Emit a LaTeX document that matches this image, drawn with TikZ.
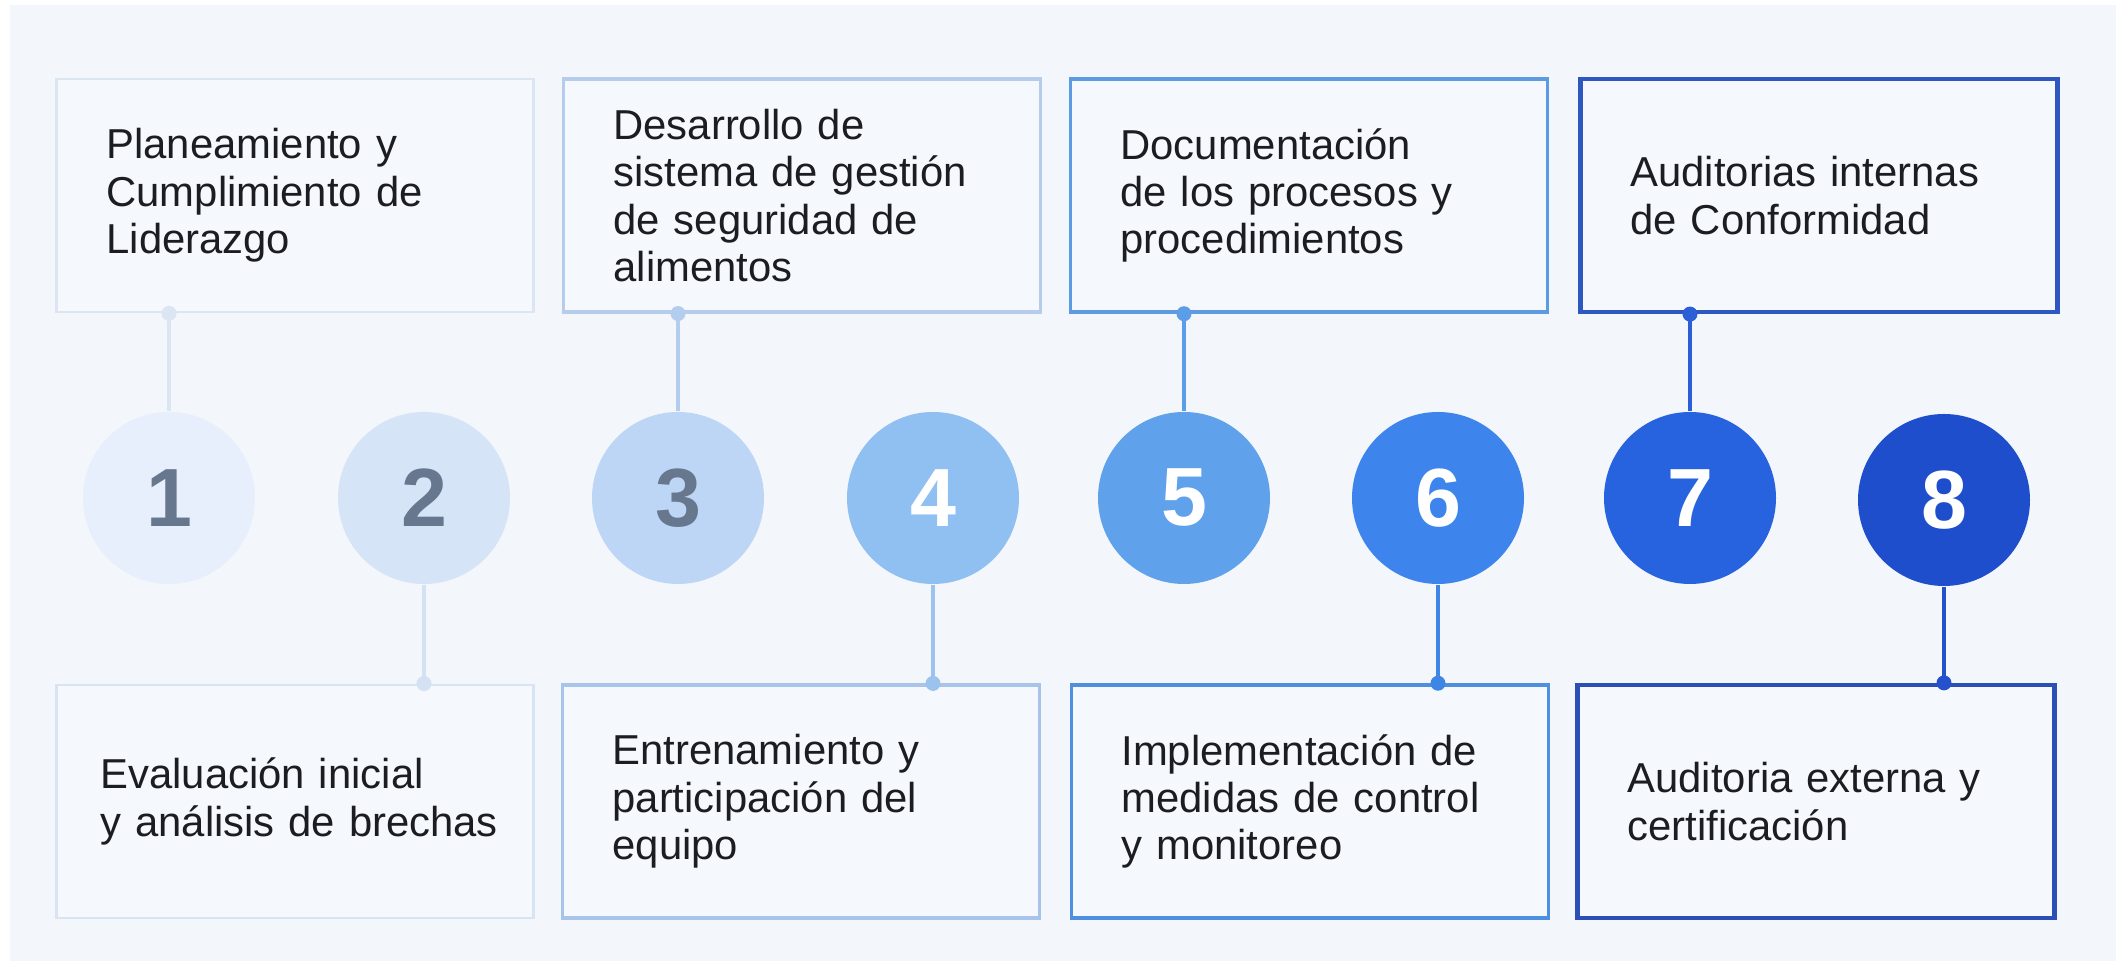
\documentclass[tikz,border=0pt]{standalone}
\usepackage{fontspec}
\setmainfont{Liberation Sans}
\usetikzlibrary{positioning}
\definecolor{bgcol}{HTML}{F3F6FA}
\definecolor{boxfill}{HTML}{F5F8FC}
\definecolor{txtcol}{HTML}{1B1D22}
\definecolor{numgray}{HTML}{66778E}
\definecolor{c1}{HTML}{E6EFFB}
\definecolor{c2}{HTML}{D5E4F7}
\definecolor{c3}{HTML}{BED6F5}
\definecolor{c4}{HTML}{90BFF2}
\definecolor{c5}{HTML}{60A1EC}
\definecolor{c6}{HTML}{3D84EC}
\definecolor{c7}{HTML}{2763DF}
\definecolor{c8}{HTML}{1E4ECC}
\definecolor{l1}{HTML}{DCE6F3}
\definecolor{l2}{HTML}{D4E1F3}
\definecolor{l3}{HTML}{B3CDEE}
\definecolor{l4}{HTML}{9CC2EE}
\definecolor{l5}{HTML}{5C9DE8}
\definecolor{l6}{HTML}{3E85E6}
\definecolor{l7}{HTML}{2A5FD8}
\definecolor{l8}{HTML}{2552CC}
\definecolor{b1}{HTML}{DCE6F3}
\definecolor{b2}{HTML}{D9E4F3}
\definecolor{b3}{HTML}{B5CCEA}
\definecolor{b4}{HTML}{A8C4EA}
\definecolor{b5}{HTML}{5C9BE0}
\definecolor{b6}{HTML}{4F8FE0}
\definecolor{b7}{HTML}{2E57C0}
\definecolor{b8}{HTML}{2C4FB6}
\begin{document}
\begin{tikzpicture}[x=0.1mm,y=0.1mm,
        box/.style={draw, fill=boxfill, line width=1pt, minimum width=4.77cm, minimum height=2.33cm,
            text width=3.77cm, inner xsep=0.5cm, inner ysep=0pt, align=left, text=txtcol,
            font=\fontsize{11.9}{13.5}\selectfont},
        num/.style={circle, minimum size=1.72cm, inner sep=0pt, font=\fontsize{23.5}{23.5}\selectfont\bfseries},
        dot/.style={circle, inner sep=0pt, minimum size=0.15cm},
        link/.style={line width=1.1pt}]
                    \fill[white] (0,0) rectangle (2116,961);
                    \fill[bgcol] (10,0) rectangle (2116,956);
                    \useasboundingbox (0,0) rectangle (2116,961);

                    \node[num, fill=c1, text=numgray] (s1 node) at (169,463) {1};
                    \node[num, fill=c2, text=numgray] (s2 node) at (424,463) {2};
                    \node[num, fill=c3, text=numgray] (s3 node) at (678,463) {3};
                    \node[num, fill=c4, text=white] (s4 node) at (933,463) {4};
                    \node[num, fill=c5, text=white] (s5 node) at (1184,463) {5};
                    \node[num, fill=c6, text=white] (s6 node) at (1438,463) {6};
                    \node[num, fill=c7, text=white] (s7 node) at (1690,463) {7};
                    \node[num, fill=c8, text=white] (s8 node) at (1944,461) {8};

                    \node[box, draw=b1, line width=0.8pt] (b1 node) at (295,765.5) {Planeamiento y\\Cumplimiento de\\Liderazgo};
                    \node[box, draw=b3, line width=0.9pt] (b3 node) at (802,765.5) {Desarrollo de\\sistema de gestión\\de seguridad de\\alimentos};
                    \node[box, draw=b5] (b5 node) at (1309,765.5) {Documentación\\de los procesos y\\procedimientos};
                    \node[box, draw=b7, line width=1.2pt] (b7 node) at (1819,765.5) {Auditorias internas\\de Conformidad};

                    \node[box, draw=b2, line width=0.8pt, inner xsep=0.44cm, text width=3.89cm] (b2 node) at (295,159.5) {Evaluación inicial\\\mbox{y análisis de brechas}};
                    \node[box, draw=b4, line width=0.9pt] (b4 node) at (801,159.5) {Entrenamiento y\\participación del\\equipo};
                    \node[box, draw=b6] (b6 node) at (1310,159.5) {Implementación de\\medidas de control\\y monitoreo};
                    \node[box, draw=b8, line width=1.2pt] (b8 node) at (1816,159.5) {Auditoria externa y\\certificación};

                    \node[dot, fill=l1] (d1 node) at (s1 node |- b1 node.south) {};
                    \node[dot, fill=l3] (d3 node) at (s3 node |- b3 node.south) {};
                    \node[dot, fill=l5] (d5 node) at (s5 node |- b5 node.south) {};
                    \node[dot, fill=l7] (d7 node) at (s7 node |- b7 node.south) {};
                    \node[dot, fill=l2] (d2 node) at (s2 node |- b2 node.north) {};
                    \node[dot, fill=l4] (d4 node) at (s4 node |- b4 node.north) {};
                    \node[dot, fill=l6] (d6 node) at (s6 node |- b6 node.north) {};
                    \node[dot, fill=l8] (d8 node) at (s8 node |- b8 node.north) {};

                    \draw[link, draw=l1] (d1 node.center) -- (s1 node);
                    \draw[link, draw=l3] (d3 node.center) -- (s3 node);
                    \draw[link, draw=l5] (d5 node.center) -- (s5 node);
                    \draw[link, draw=l7] (d7 node.center) -- (s7 node);
                    \draw[link, draw=l2] (s2 node) -- (d2 node.center);
                    \draw[link, draw=l4] (s4 node) -- (d4 node.center);
                    \draw[link, draw=l6] (s6 node) -- (d6 node.center);
                    \draw[link, draw=l8] (s8 node) -- (d8 node.center);

                \end{tikzpicture}
\end{document}
